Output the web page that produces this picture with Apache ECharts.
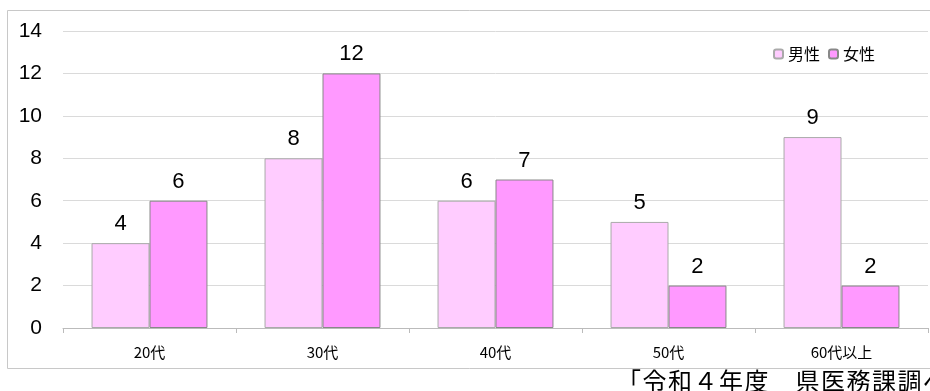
<!DOCTYPE html>
<html>
<head>
<meta charset="utf-8">
<script src="https://cdn.jsdelivr.net/npm/echarts@6/dist/echarts.min.js"></script>
<style>
html,body{margin:0;padding:0;background:#fff;}
#main{width:930px;height:391px;}
</style>
</head>
<body>
<div id="main"></div>
<script>
var categories = ['20代', '30代', '40代', '50代', '60代以上'];
var male = [4, 8, 6, 5, 9];
var female = [6, 12, 7, 2, 2];
var seriesNames = ['男性', '女性'];
var sourceText = '「令和４年度　県医務課調べ」';

window.onload = function () {
	var myChart = echarts.init(document.getElementById('main'));
	var font = '"Noto Sans CJK JP", "Noto Sans", sans-serif';
	var numFont = '"Liberation Sans", Arial, sans-serif';

	// source note, spaced out one character at a time
	var noteChars = [];
	var chars = sourceText.split('');
	for (var i = 0; i < chars.length; i++) {
		noteChars.push({
			type: 'text',
			x: i * 25.5,
			y: 0,
			style: { text: chars[i], fill: '#000', font: '24px "Noto Sans CJK JP"' }
		});
	}

	var option = {
		backgroundColor: '#fff',
		animation: false,
		textStyle: { fontFamily: font },
		graphic: [
			{
				type: 'rect',
				shape: { x: 7.5, y: 10.5, width: 940, height: 358 },
				style: { fill: 'none', stroke: '#c8c8c8', lineWidth: 1 },
				z: -1
			},
			{
				type: 'group',
				left: 617,
				top: 369,
				children: noteChars
			}
		],
		legend: {
			right: 50,
			top: 41,
			itemWidth: 9,
			itemHeight: 9,
			itemGap: 8,
			textStyle: { fontSize: 16, color: '#000', fontFamily: font },
			data: seriesNames
		},
		grid: {
			left: 63,
			right: 2,
			top: 31,
			bottom: 63
		},
		xAxis: {
			type: 'category',
			data: categories,
			axisLine: { lineStyle: { color: '#bbb' } },
			axisTick: { show: true, length: 5, lineStyle: { color: '#bbb' } },
			axisLabel: { color: '#000', fontSize: 15, margin: 17, fontFamily: font }
		},
		yAxis: {
			type: 'value',
			min: 0,
			max: 14,
			interval: 2,
			axisLine: { show: false },
			axisTick: { show: false },
			axisLabel: { color: '#000', fontSize: 21, margin: 21, fontFamily: numFont },
			splitLine: { lineStyle: { color: '#dadada' } }
		},
		series: [
			{
				name: seriesNames[0],
				type: 'bar',
				data: male,
				barGap: '0%',
				barCategoryGap: '33%',
				itemStyle: { color: '#ffccff', borderColor: '#aaa', borderWidth: 1 },
				label: { show: true, position: 'top', distance: 8, color: '#000', fontSize: 22, fontFamily: numFont }
			},
			{
				name: seriesNames[1],
				type: 'bar',
				data: female,
				itemStyle: { color: '#ff99ff', borderColor: '#888', borderWidth: 1 },
				label: { show: true, position: 'top', distance: 8, color: '#000', fontSize: 22, fontFamily: numFont }
			}
		]
	};

	myChart.setOption(option);
};
</script>
</body>
</html>
